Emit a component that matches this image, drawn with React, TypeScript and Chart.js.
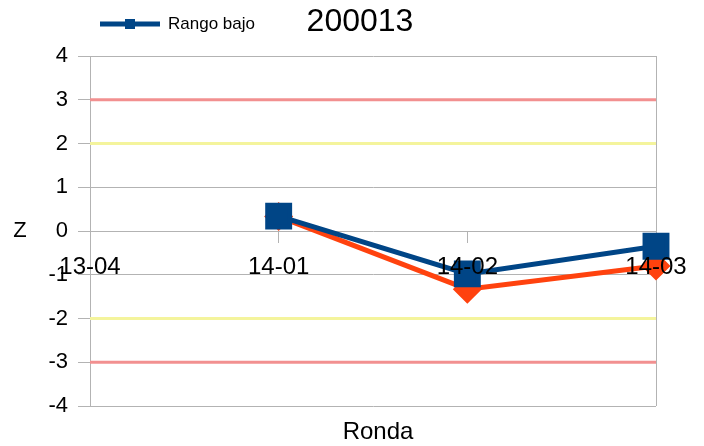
import React, { useEffect, useRef } from "react";
import { Chart, registerables } from "chart.js";

Chart.register(...registerables);

const categories = ["13-04", "14-01", "14-02", "14-03"];
const rangoBajo = [null, 0.34, -0.98, -0.35];
const rangoAlto = [null, 0.33, -1.33, -0.8];
const redUpper = [3, 3, 3, 3];
const redLower = [-3, -3, -3, -3];
const yellowUpper = [2, 2, 2, 2];
const yellowLower = [-2, -2, -2, -2];
const chartTitle = "200013";
const legendLabel = "Rango bajo";
const xTitle = "Ronda";
const yTitle = "Z";

const BLUE = "#004586";
const ORANGE = "#ff420e";
const RED = "#f29090";
const YELLOW = "#f4f49c";
const GRID = "#b3b3b3";
const FONT = "'Liberation Sans', Arial, sans-serif";

const decorPlugin = {
  id: "decor",
  afterDraw(chart: any) {
    const ctx = chart.ctx;
    ctx.save();
    ctx.fillStyle = "#000";
    // title
    ctx.font = `32px ${FONT}`;
    ctx.textAlign = "center";
    ctx.textBaseline = "middle";
    ctx.fillText(chartTitle, 360, 22);
    // legend
    ctx.strokeStyle = BLUE;
    ctx.lineWidth = 5;
    ctx.beginPath();
    ctx.moveTo(100, 24);
    ctx.lineTo(160, 24);
    ctx.stroke();
    ctx.fillStyle = BLUE;
    ctx.fillRect(125, 19, 10, 10);
    ctx.fillStyle = "#000";
    ctx.font = `17px ${FONT}`;
    ctx.textAlign = "left";
    ctx.fillText(legendLabel, 168, 24);
    // axis titles
    const area = chart.chartArea;
    ctx.font = `22px ${FONT}`;
    ctx.textAlign = "center";
    ctx.fillText(yTitle, 20, chart.scales.y.getPixelForValue(0));
    ctx.font = `24px ${FONT}`;
    ctx.fillText(xTitle, (area.left + area.right) / 2 + 5, 432);
    ctx.restore();
  },
};

export default function App() {
  const ref = useRef<HTMLCanvasElement>(null);
  useEffect(() => {
    if (!ref.current) return;
    const refLine = (data: number[], color: string) => ({
      data,
      borderColor: color,
      backgroundColor: color,
      borderWidth: 3,
      pointRadius: 0,
      order: 3,
    });
    const chart = new Chart(ref.current, {
      type: "line",
      data: {
        labels: categories,
        datasets: [
          {
            label: legendLabel,
            data: rangoBajo,
            borderColor: BLUE,
            backgroundColor: BLUE,
            borderWidth: 5,
            pointStyle: "rect",
            pointRadius: 15.5,
            order: 0,
          },
          {
            label: "Rango alto",
            data: rangoAlto,
            borderColor: ORANGE,
            backgroundColor: ORANGE,
            borderWidth: 5,
            pointStyle: "rectRot",
            pointRadius: 11,
            order: 1,
          },
          refLine(redUpper, RED),
          refLine(redLower, RED),
          refLine(yellowUpper, YELLOW),
          refLine(yellowLower, YELLOW),
        ] as any,
      },
      options: {
        animation: false,
        responsive: false,
        maintainAspectRatio: false,
        layout: { padding: { left: 0, right: 48, top: 56, bottom: 40 } },
        plugins: { legend: { display: false }, title: { display: false }, tooltip: { enabled: false } },
        scales: {
          x: {
            position: { y: 0 } as any,
            offset: false,
            grid: {
              color: (c: any) => (c.index === 3 ? GRID : "rgba(0,0,0,0)"),
              tickColor: GRID,
              tickLength: 12,
              lineWidth: 1,
            },
            border: { display: false },
            ticks: {
              z: 1,
              color: "#000",
              font: { family: FONT, size: 24 },
              padding: 10,
              maxRotation: 0,
              autoSkip: false,
            },
          },
          y: {
            min: -4,
            max: 4,
            afterFit: (s: any) => {
              s.width = 90;
            },
            grid: { color: GRID, tickColor: GRID, tickLength: 12 },
            border: { display: true, color: GRID },
            ticks: { stepSize: 1, color: "#000", font: { family: FONT, size: 22 }, padding: 10 },
          },
        },
      },
      plugins: [decorPlugin],
    });
    return () => chart.destroy();
  }, []);
  return (
    <div style={{ position: "fixed", left: 0, top: 0, width: 704, height: 446, background: "#fff" }}>
      <canvas ref={ref} width={704} height={446} style={{ width: 704, height: 446 }} />
    </div>
  );
}
